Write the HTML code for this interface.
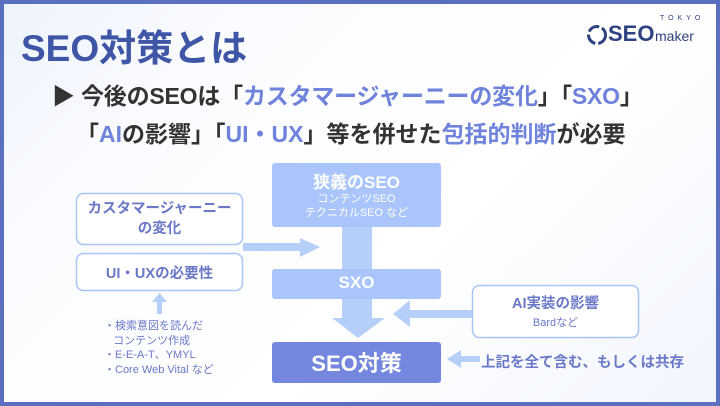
<!DOCTYPE html>
<html><head><meta charset="utf-8"><style>
body{margin:0;width:720px;height:406px;overflow:hidden;font-family:"Liberation Sans","Noto Sans CJK JP",sans-serif;}
.frame{position:absolute;left:0;top:0;width:712px;height:398px;border:4px solid #5a6fbe;background:linear-gradient(135deg,#eef3fc 0%,#fbfcff 25%,#ffffff 60%,#f1f5fd 100%);}
.t{position:absolute;white-space:nowrap;}
.b{color:#6f82dc;}
</style></head><body>
<div class="frame"></div>
<div class="t" style="left:21px;top:18px;font-size:37px;font-weight:bold;color:#3f55a6;">SEO対策とは</div>
<svg style="position:absolute;left:586px;top:23px" width="22" height="24" viewBox="0 0 22 24"><circle cx="11" cy="12" r="8.5" fill="none" stroke="#2e4282" stroke-width="3" stroke-dasharray="12 3"/></svg>
<div class="t" style="left:608px;top:21px;font-size:22px;font-weight:bold;color:#2e4282;">SEO</div>
<div class="t" style="left:655px;top:28px;font-size:14px;color:#2e4282;">maker</div>
<div class="t" style="left:660px;top:15px;font-size:7px;color:#2e4282;letter-spacing:4px;">TOKYO</div>
<div class="t" style="left:52px;top:77px;font-size:23px;font-weight:bold;color:#333;letter-spacing:-0.2px;">▶ 今後のSEOは「<span class="b">カスタマージャーニーの変化</span>」「<span class="b">SXO</span>」</div>
<div class="t" style="left:76px;top:115px;font-size:23px;font-weight:bold;color:#333;">「<span class="b">AI</span>の影響」「<span class="b">UI・UX</span>」等を併せた<span class="b">包括的判断</span>が必要</div>
<svg style="position:absolute;left:0;top:0" width="720" height="406">
<g fill="#b6cff8">
<rect x="342" y="226" width="30" height="45"/>
<rect x="342" y="298" width="30" height="20"/>
<polygon points="332,318 385,318 358,338"/>
<rect x="243" y="243" width="60" height="8"/>
<polygon points="300,238 320,247 300,257"/>
<rect x="157" y="298" width="5" height="16"/>
<polygon points="152,302 167,302 159.5,293"/>
<rect x="405" y="310" width="68" height="8"/>
<polygon points="410,300 393,314 410,327"/>
<rect x="458" y="356" width="22" height="6"/>
<polygon points="461,350 447,359 461,368"/>
</g>
<rect x="272" y="163" width="169" height="64" rx="3" fill="#a9c5fb"/>
<rect x="272" y="269" width="169" height="30" rx="3" fill="#a9c5fb"/>
<rect x="272" y="342" width="169" height="41" rx="3" fill="#7486dd"/>
<rect x="76.5" y="193.5" width="166" height="51" rx="7" fill="#fff" stroke="#a9c5f5" stroke-width="1.5"/>
<rect x="76.5" y="253.5" width="166" height="37" rx="7" fill="#fff" stroke="#a9c5f5" stroke-width="1.5"/>
<rect x="472.5" y="285.5" width="166" height="52" rx="7" fill="#fff" stroke="#a9c5f5" stroke-width="1.5"/>
</svg>
<div class="t" style="left:272px;width:169px;text-align:center;top:168px;font-size:17px;font-weight:bold;color:#fff;">狭義のSEO</div>
<div class="t" style="left:272px;width:169px;text-align:center;top:192px;font-size:11px;color:#fff;line-height:14px;">コンテンツSEO<br>テクニカルSEO など</div>
<div class="t" style="left:272px;width:169px;text-align:center;top:273px;font-size:17px;font-weight:bold;color:#fff;">SXO</div>
<div class="t" style="left:272px;width:169px;text-align:center;top:346px;font-size:22px;font-weight:bold;color:#fff;">SEO対策</div>
<div class="t" style="left:76px;width:167px;text-align:center;top:199px;font-size:14.5px;font-weight:bold;color:#6a78c8;line-height:20px;">カスタマージャーニー<br>の変化</div>
<div class="t" style="left:76px;width:167px;text-align:center;top:262px;font-size:14.5px;font-weight:bold;color:#6a78c8;">UI・UXの必要性</div>
<div class="t" style="left:104px;top:319px;font-size:11px;color:#6a78c8;line-height:14.5px;">・検索意図を読んだ<br>&nbsp;&nbsp;&nbsp;コンテンツ作成<br>・E-E-A-T、YMYL<br>・Core Web Vital など</div>
<div class="t" style="left:472px;width:167px;text-align:center;top:292px;font-size:14.5px;font-weight:bold;color:#6a78c8;">AI実装の影響</div>
<div class="t" style="left:472px;width:167px;text-align:center;top:314px;font-size:11px;color:#6a78c8;">Bardなど</div>
<div class="t" style="left:481px;top:351px;font-size:14.5px;font-weight:bold;color:#6a78c8;">上記を全て含む、もしくは共存</div>
</body></html>
